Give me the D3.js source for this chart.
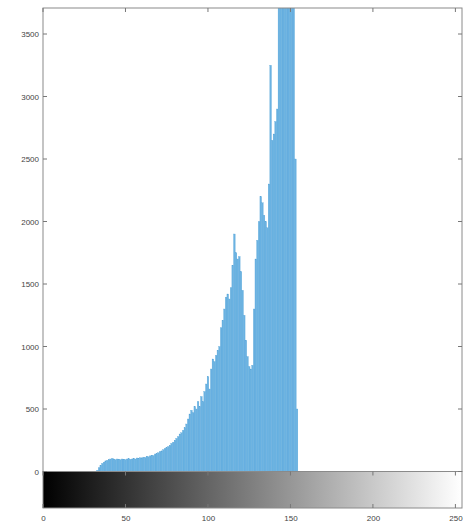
<!DOCTYPE html>
<meta charset="utf-8" />
<style>
  html, body {
    margin: 0;
    padding: 0;
    background: #fff;
    font-family: 'Liberation Sans', Arial, sans-serif;
  }
</style>
<script src="https://d3js.org/d3.v7.min.js"></script>
<div id="chart"></div>
<script>
  // grey level bins that have counts (everything else is 0)
  const firstBin = 33;
  const counts = [
    10, 30, 50, 65, 75, 85, 90, 95, 100, 105,          // 33-42
    100, 95, 100, 98, 95, 100, 98, 95, 100, 102,       // 43-52
    98, 100, 105, 100, 108, 105, 110, 108, 115, 112,   // 53-62
    120, 118, 125, 130, 128, 140, 145, 150, 160, 165,  // 63-72
    175, 185, 190, 200, 210, 225, 235, 250, 265, 280,  // 73-82
    300, 310, 330, 350, 380, 420, 460, 490, 470, 520,  // 83-92
    500, 560, 520, 600, 560, 640, 700, 760, 660, 820,  // 93-102
    900, 880, 930, 970, 1000, 1150, 1210, 1300, 1395, 1420, // 103-112
    1380, 1470, 1650, 1900, 1750, 1700, 1720, 1600, 1450, 1250, // 113-122
    1050, 920, 840, 820, 850, 1300, 1700, 1850, 2000, 2200, // 123-132
    2150, 2050, 2000, 1950, 2300, 3250, 2650, 2700, 2800, 2900, // 133-142
    4200, 4500, 5000, 4800, 5200, 4600, 4900, 4400, 4700, 4100, // 143-152
    2500, 500                                          // 153-154
  ];
  const xTicks = [0, 50, 100, 150, 200, 250];
  const yTicks = [0, 500, 1000, 1500, 2000, 2500, 3000, 3500];

  function drawChart() {
    const W = 463, H = 526;
    const mLeft = 43, mRight = 462, mTop = 8, base = 471.5, barBottom = 508;

    const svg = d3.select('#chart').append('svg')
      .attr('width', W).attr('height', H);

    const x = d3.scaleLinear().domain([0, 254]).range([mLeft, mRight]);
    const y = d3.scaleLinear().domain([0, 3708]).range([base, mTop]);

    const data = counts.map((c, i) => ({ bin: firstBin + i, value: c }));

    svg.append('clipPath').attr('id', 'plot')
      .append('rect')
      .attr('x', mLeft).attr('y', mTop)
      .attr('width', mRight - mLeft).attr('height', base - mTop);

    // histogram bars
    svg.append('g').attr('clip-path', 'url(#plot)')
      .selectAll('rect')
      .data(data)
      .enter()
      .append('rect')
      .attr('x', d => x(d.bin - 0.5))
      .attr('width', d => x(d.bin + 0.5) - x(d.bin - 0.5))
      .attr('y', d => y(d.value))
      .attr('height', d => base - y(d.value))
      .style('fill', '#6ab2e2')
      .style('stroke', '#58a5d8')
      .style('stroke-width', 0.3);

    // grey colour bar under the axis
    const grad = svg.append('defs').append('linearGradient')
      .attr('id', 'grey')
      .attr('x1', '0%').attr('x2', '100%');
    grad.append('stop').attr('offset', '0%').attr('stop-color', '#000');
    grad.append('stop').attr('offset', '100%').attr('stop-color', '#fff');

    svg.append('rect')
      .attr('x', mLeft).attr('y', base)
      .attr('width', mRight - mLeft).attr('height', barBottom - base)
      .style('fill', 'url(#grey)')
      .style('stroke', '#8a8a8a')
      .style('stroke-width', 1);

    // axes box
    svg.append('rect')
      .attr('x', mLeft).attr('y', mTop)
      .attr('width', mRight - mLeft).attr('height', base - mTop)
      .style('fill', 'none')
      .style('stroke', '#8a8a8a')
      .style('stroke-width', 1);

    const tickColor = '#777';
    // y ticks, left and right
    yTicks.forEach(t => {
      svg.append('line')
        .attr('x1', mLeft).attr('x2', mLeft + 4)
        .attr('y1', y(t)).attr('y2', y(t))
        .style('stroke', tickColor);
      svg.append('line')
        .attr('x1', mRight - 4).attr('x2', mRight)
        .attr('y1', y(t)).attr('y2', y(t))
        .style('stroke', tickColor);
    });

    // x ticks on top of plot and on the colour bar
    xTicks.forEach(t => {
      [[mTop, mTop + 4], [base, base + 4], [barBottom - 4, barBottom]].forEach(p => {
        svg.append('line')
          .attr('x1', x(t)).attr('x2', x(t))
          .attr('y1', p[0]).attr('y2', p[1])
          .style('stroke', tickColor);
      });
    });

    const yAxis = d3.axisLeft(y).tickValues(yTicks)
      .tickFormat(d3.format('d')).tickSize(0).tickPadding(4);
    svg.append('g')
      .attr('transform', `translate(${mLeft},0)`)
      .call(yAxis)
      .call(g => g.select('.domain').remove())
      .selectAll('text')
      .style('font-size', '8px')
      .style('fill', '#444')
      .style('font-family', "'Liberation Sans', Arial, sans-serif");

    const xAxis = d3.axisBottom(x).tickValues(xTicks)
      .tickFormat(d3.format('d')).tickSize(0).tickPadding(7);
    svg.append('g')
      .attr('transform', `translate(0,${barBottom})`)
      .call(xAxis)
      .call(g => g.select('.domain').remove())
      .selectAll('text')
      .style('font-size', '8px')
      .style('fill', '#444')
      .style('font-family', "'Liberation Sans', Arial, sans-serif");
  }

  drawChart();
</script>
